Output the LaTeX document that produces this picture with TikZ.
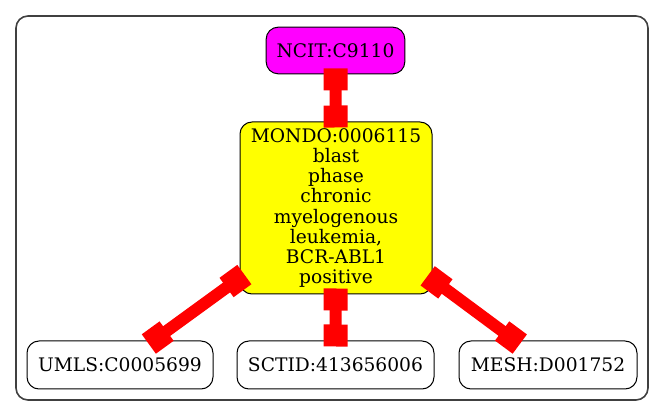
\documentclass[tikz,border=0pt]{standalone}
\usepackage{fontspec}
\setmainfont{DejaVu Serif}
\usetikzlibrary{
  arrows.meta
}
\definecolor{ncitpink}{RGB}{255,0,255}
\definecolor{mondoyellow}{RGB}{255,255,0}
\definecolor{linkred}{RGB}{255,0,0}

\begin{document}
\begin{tikzpicture}[
  x=0.75pt,
  y=-0.75pt,
  term/.style={draw,rounded corners=9pt,line width=0.75pt,align=center,inner sep=0pt,
    font=\fontsize{14}{15.1}\selectfont},
  link/.style={linkred,line width=9pt,
    {Square[length=16.5pt,width=18pt]}-{Square[length=16.5pt,width=18pt]},
    shorten <=-4.5pt,shorten >=-4.5pt},
]
\useasboundingbox (0,0) rectangle (664,416);
\draw[rounded corners=9pt,line width=1.2pt,black!75] (16,16) rectangle (648,400);
\node[term,fill=ncitpink,minimum width=104pt,minimum height=35pt] (ncit) at (335.5,50.5) {NCIT:C9110};
\node[term,fill=mondoyellow,minimum width=144pt,minimum height=129pt] (mondo) at (336,208)
  {MONDO:0006115\\blast\\phase\\chronic\\myelogenous\\leukemia,\\BCR-ABL1\\positive};
\node[term,minimum width=139.5pt,minimum height=36pt] (umls) at (120,365) {UMLS:C0005699};
\node[term,minimum width=147.75pt,minimum height=36pt] (sctid) at (335.5,365) {SCTID:413656006};
\node[term,minimum width=133.5pt,minimum height=36pt] (mesh) at (548,365) {MESH:D001752};
\draw[link] (ncit) -- (mondo);
\draw[link] (mondo) -- (umls);
\draw[link] (mondo) -- (sctid);
\draw[link] (mondo) -- (mesh);
\end{tikzpicture}
\end{document}
